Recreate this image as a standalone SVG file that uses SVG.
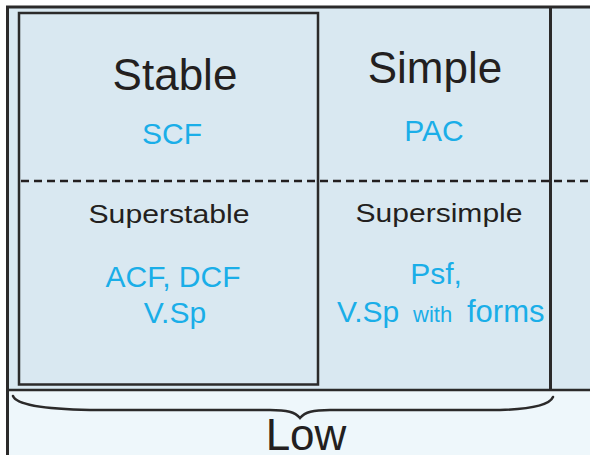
<svg xmlns="http://www.w3.org/2000/svg" width="590" height="455" viewBox="0 0 590 455">
  <style>
    .frame { fill: none; stroke: #2b2a2a; stroke-width: 3; }
    .rule { fill: none; stroke: #2b2a2a; stroke-width: 2.5; }
    .dash { fill: none; stroke: #231f20; stroke-width: 2.5; stroke-dasharray: 8 5; }
    .title { font-family: "Liberation Sans", Arial, sans-serif; font-size: 44px; fill: #231f20; text-anchor: middle; }
    .sub { font-family: "Liberation Sans", Arial, sans-serif; font-size: 26px; fill: #231f20; text-anchor: middle; }
    .ex { font-family: "Liberation Sans", Arial, sans-serif; font-size: 30px; fill: #1aaee8; text-anchor: middle; }
  </style>

  <!-- background panels -->
  <rect x="0" y="0" width="590" height="455" fill="#ffffff"/>
  <rect x="8" y="7" width="582" height="383" fill="#d9e8f1"/>
  <rect x="8" y="390" width="582" height="65" fill="#eef7fb"/>

  <!-- Stable / Superstable column -->
  <g id="stable">
    <rect x="19" y="13" width="299" height="371.5" fill="#e8eef3" class="rule"/>
    <text class="title" x="175" y="90">Stable</text>
    <text class="ex" x="172" y="144" font-size="29">SCF</text>
  </g>
  <g id="superstable">
    <text class="sub" x="169" y="223" textLength="161" lengthAdjust="spacingAndGlyphs">Superstable</text>
    <text class="ex" x="173" y="287">ACF, DCF</text>
    <text class="ex" x="175" y="323">V.Sp</text>
  </g>

  <!-- Simple / Supersimple column -->
  <g id="simple">
    <text class="title" x="435" y="83">Simple</text>
    <text class="ex" x="434" y="141" font-size="29">PAC</text>
  </g>
  <g id="supersimple">
    <text class="sub" x="439" y="222" textLength="167" lengthAdjust="spacingAndGlyphs">Supersimple</text>
    <text class="ex" x="436" y="284">Psf,</text>
    <text class="ex" y="322" style="text-anchor:start"><tspan x="337">V.Sp</tspan><tspan x="413" font-size="22">with</tspan><tspan x="467" font-size="31">forms</tspan></text>
  </g>

  <!-- frame lines and separators -->
  <g id="connectors">
    <line class="frame" x1="6" y1="7" x2="590" y2="7"/>
    <line class="frame" x1="7.5" y1="6" x2="7.5" y2="455"/>
    <line class="frame" x1="550.5" y1="7" x2="550.5" y2="390"/>
    <line class="rule" x1="8" y1="390" x2="590" y2="390"/>
    <line class="dash" x1="21" y1="181" x2="590" y2="181"/>
    <!-- brace under the first two columns -->
    <path class="rule" stroke-linecap="round" d="M13,396 C16,404 40,409 90,410 L270,410 C287,410 295,412 300,418 C305,412 313,410 330,410 L500,410 C536,409 550,404 553,397"/>
  </g>

  <g id="low">
    <text class="title" x="306" y="450">Low</text>
  </g>
</svg>
